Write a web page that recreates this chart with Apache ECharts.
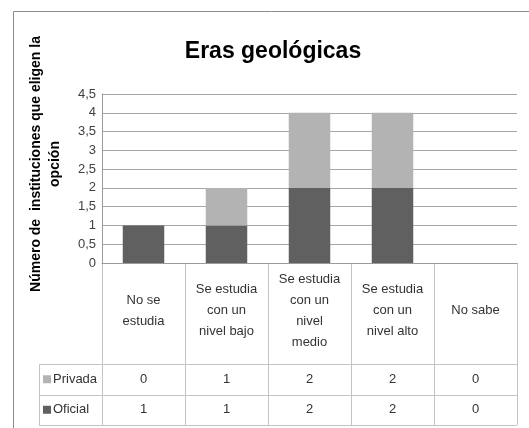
<!DOCTYPE html>
<html>
<head>
<meta charset="utf-8">
<script src="https://cdn.jsdelivr.net/npm/echarts@6/dist/echarts.min.js"></script>
<style>
  html, body { margin: 0; padding: 0; background: #fff; }
  #chart { width: 529px; height: 428px; }
</style>
</head>
<body>
<div id="chart"></div>
<script>
const categories = ['No se\nestudia', 'Se estudia\ncon un\nnivel bajo', 'Se estudia\ncon un\nnivel\nmedio', 'Se estudia\ncon un\nnivel alto', 'No sabe']
const privada = [0, 1, 2, 2, 0]
const oficial = [1, 1, 2, 2, 0]
const yTicks = { min: 0, max: 4.5, interval: 0.5 }

const font = '"Liberation Sans", Arial, sans-serif'
const darkGray = '#606060'
const lightGray = '#b3b3b3'
const lineGray = '#c4c4c4'

const chart = echarts.init(document.getElementById('chart'))

const options = {
  animation: false,
  textStyle: { fontFamily: font },
  title: {
    text: 'Eras geológicas',
    left: 268,
    top: 35,
    textAlign: 'center',
    textStyle: { fontFamily: font, fontSize: 23, fontWeight: 'bold', color: '#000' },
  },
  grid: { left: 102, top: 94, right: 12, bottom: 165 },
  xAxis: {
    type: 'category',
    data: categories,
    axisLine: { show: true, lineStyle: { color: '#9a9a9a' } },
    axisTick: { show: false },
    axisLabel: { show: false },
  },
  yAxis: {
    type: 'value',
    min: yTicks.min,
    max: yTicks.max,
    interval: yTicks.interval,
    axisLine: { show: true, lineStyle: { color: '#9a9a9a' } },
    axisTick: { show: false },
    axisLabel: {
      color: '#404040',
      fontSize: 13,
      fontFamily: font,
      margin: 6,
      formatter: (v) => String(v).replace('.', ','),
    },
    splitLine: { show: true, lineStyle: { color: '#a6a6a6' } },
  },
  series: [
    {
      name: 'Oficial',
      type: 'bar',
      stack: 'total',
      barWidth: '50%',
      itemStyle: { color: darkGray },
      data: oficial,
    },
    {
      name: 'Privada',
      type: 'bar',
      stack: 'total',
      barWidth: '50%',
      itemStyle: { color: lightGray },
      data: privada,
    },
  ],
}
chart.setOption(options)

// tabla de datos debajo del eje, con las posiciones del eje x
function buildTable() {
  const zeroY = chart.convertToPixel({ yAxisIndex: 0 }, 0)
  const c0 = chart.convertToPixel({ xAxisIndex: 0 }, 0)
  const c1 = chart.convertToPixel({ xAxisIndex: 0 }, 1)
  const band = c1 - c0
  const leftX = c0 - band / 2
  const rightX = leftX + band * categories.length
  const headBottom = 364
  const rowH = 30.5
  const tableLeft = 39
  const els = []
  const line = (x1, y1, x2, y2) => ({
    type: 'line',
    shape: { x1, y1, x2, y2 },
    style: { stroke: lineGray, lineWidth: 1 },
  })
  const text = (x, y, t, align) => ({
    type: 'text',
    x,
    y,
    style: {
      text: t,
      fill: '#333',
      font: '13px ' + font,
      align: align || 'center',
      verticalAlign: 'middle',
      lineHeight: 21,
    },
  })
  // lineas verticales
  for (let i = 0; i <= categories.length; i++) {
    const x = Math.round(leftX + band * i) + 0.5
    els.push(line(x, zeroY, x, headBottom + rowH * 2))
  }
  els.push(line(tableLeft + 0.5, headBottom, tableLeft + 0.5, headBottom + rowH * 2))
  // lineas horizontales
  for (let r = 0; r <= 2; r++) {
    const y = Math.round(headBottom + rowH * r) + 0.5
    els.push(line(tableLeft, y, rightX, y))
  }
  // encabezados
  categories.forEach((c, i) => {
    els.push(text(leftX + band * (i + 0.5), (zeroY + headBottom) / 2 - 3, c))
  })
  const rows = [
    { name: 'Privada', color: lightGray, values: privada },
    { name: 'Oficial', color: darkGray, values: oficial },
  ]
  rows.forEach((row, r) => {
    const cy = headBottom + rowH * (r + 0.5)
    els.push({
      type: 'rect',
      shape: { x: 43, y: cy - 4, width: 8, height: 8 },
      style: { fill: row.color },
    })
    els.push(text(53, cy, row.name, 'left'))
    row.values.forEach((v, i) => {
      els.push(text(leftX + band * (i + 0.5), cy, String(v)))
    })
  })
  // marco exterior
  els.push({
    type: 'rect',
    shape: { x: 13.5, y: 11.5, width: 600, height: 600 },
    style: { fill: 'none', stroke: '#8c8c8c', lineWidth: 1 },
    z: -1,
  })
  // titulo del eje y
  els.push({
    type: 'text',
    x: 46,
    y: 164,
    rotation: Math.PI / 2,
    style: {
      text: 'Número de  instituciones que eligen la\nopción',
      fill: '#000',
      font: 'bold 14px ' + font,
      align: 'center',
      verticalAlign: 'middle',
      lineHeight: 19,
    },
  })
  chart.setOption({ graphic: { elements: els } })
}
buildTable()
</script>
</body>
</html>
